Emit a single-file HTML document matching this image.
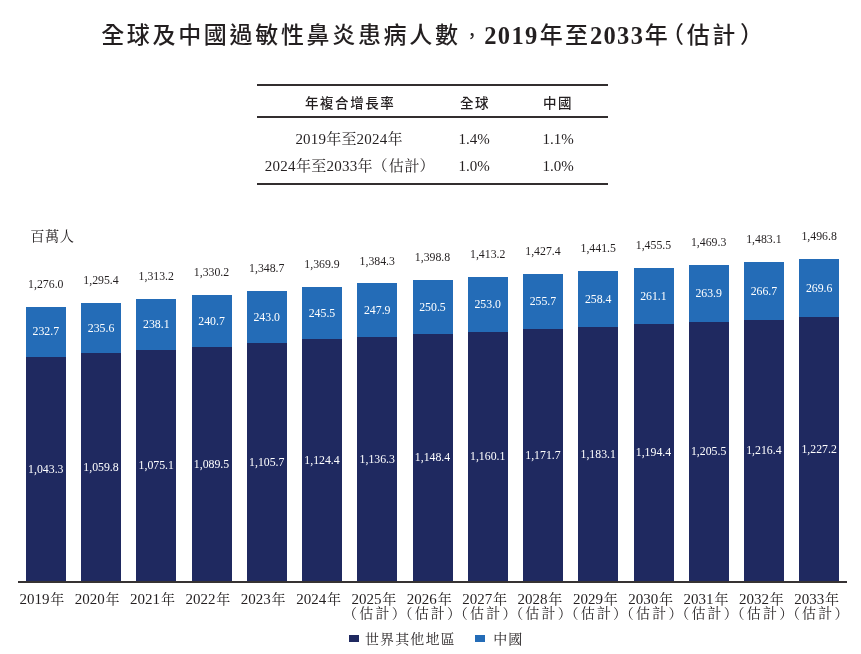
<!DOCTYPE html>
<html lang="zh-Hant">
<head>
<meta charset="utf-8">
<title>全球及中國過敏性鼻炎患病人數</title>
<style>
html,body{margin:0;padding:0;background:#fff;}
body{width:861px;height:654px;position:relative;overflow:hidden;color:#231f20;
 font-family:"Liberation Serif","Noto Serif CJK SC",serif;}
#wrap{position:absolute;left:0;top:0;width:861px;height:654px;will-change:transform;}
.abs{position:absolute;white-space:nowrap;}
.title{left:0;top:17px;width:861px;height:36px;line-height:36px;font-size:23px;}
.title span{position:absolute;top:0;white-space:nowrap;}
.sans{font-family:"Liberation Sans","Noto Sans CJK TC",sans-serif;}
.tc{font-weight:500;letter-spacing:2.67px;}
.tn{font-family:"Liberation Serif",serif;font-weight:700;font-size:24.5px;letter-spacing:1.3px;margin-top:0.5px;}
.rule{position:absolute;left:257px;width:351px;height:1.8px;background:#322e2f;}
.th{font-family:"Liberation Sans","Noto Sans CJK TC",sans-serif;font-weight:500;font-size:13.5px;letter-spacing:1.6px;line-height:20px;height:20px;}
.td{font-size:15px;line-height:20px;height:20px;}
.ctr{text-align:center;}
.bar{position:absolute;width:40.0px;}
.v{position:absolute;width:55.24px;text-align:center;font-size:11.8px;line-height:14px;height:14px;white-space:nowrap;}
.w{color:#fff;}
.xl{position:absolute;width:70px;text-align:center;font-size:15px;line-height:16px;height:16px;white-space:nowrap;top:590.7px;}
.xl .c{font-size:14px;margin-left:0.8px;line-height:0;}
.xl .e{font-size:14px;letter-spacing:2.2px;position:absolute;left:0;width:70px;top:15.4px;line-height:16px;height:16px;}
.pl{margin-left:-0.55em;}
.pr{margin-right:-0.62em;letter-spacing:0 !important;}
.axis{position:absolute;left:17.8px;width:829.4px;top:581.2px;height:1.7px;background:#363233;}
.unit{left:30.2px;top:226px;font-size:14.2px;line-height:20px;letter-spacing:0.6px;}
.lg{font-size:14px;line-height:20px;top:630.2px;letter-spacing:1.15px;}
.sw{position:absolute;width:9.9px;height:6.9px;top:635px;}
</style>
</head>
<body>
<div id="wrap">
<div class="abs title"><span class="sans tc" style="left:101.2px">全球及中國過敏性鼻炎患病人數</span><span class="sans tc" style="left:463.5px;top:1.5px;font-size:17px">，</span><span class="tn" style="left:484.3px">2019</span><span class="sans tc" style="left:539.8px;letter-spacing:2.2px">年至</span><span class="tn" style="left:590px">2033</span><span class="sans tc" style="left:644.8px">年</span><span class="sans tc" style="left:661px">（</span><span class="sans tc" style="left:686.8px">估</span><span class="sans tc" style="left:712.3px">計</span><span class="sans tc" style="left:740px">）</span></div>
<div class="rule" style="top:83.75px"></div>
<div class="rule" style="top:116.2px"></div>
<div class="rule" style="top:182.9px"></div>
<div class="abs th ctr" style="left:280.2px;width:140px;top:94px">年複合增長率</div>
<div class="abs th ctr" style="left:435px;width:80px;top:94px">全球</div>
<div class="abs th ctr" style="left:518px;width:80px;top:94px">中國</div>
<div class="abs td ctr" style="left:249px;width:200px;top:128.9px;letter-spacing:0.2px">2019年至2024年</div>
<div class="abs td ctr" style="left:434px;width:80px;top:128.9px">1.4%</div>
<div class="abs td ctr" style="left:518px;width:80px;top:128.9px">1.1%</div>
<div class="abs td" style="left:264.8px;top:156.4px;letter-spacing:0.27px">2024年至2033年</div>
<div class="abs td" style="left:372.6px;top:156.4px">（</div>
<div class="abs td" style="left:388.8px;top:156.4px;letter-spacing:0.7px">估計</div>
<div class="abs td" style="left:419.6px;top:156.4px">）</div>
<div class="abs td ctr" style="left:434px;width:80px;top:156.4px">1.0%</div>
<div class="abs td ctr" style="left:518px;width:80px;top:156.4px">1.0%</div>
<div class="abs unit">百萬人</div>
<div class="bar" style="left:26.00px;top:306.73px;height:50.55px;background:#246cb7"></div>
<div class="bar" style="left:26.00px;top:356.79px;height:225.01px;background:#1f2960"></div>
<div class="v" style="left:18.18px;top:276.83px">1,276.0</div>
<div class="v w" style="left:18.18px;top:324.46px">232.7</div>
<div class="v w" style="left:18.18px;top:461.69px">1,043.3</div>
<div class="xl" style="left:6.80px">2019<span class="c">年</span></div>
<div class="bar" style="left:81.24px;top:302.56px;height:51.18px;background:#246cb7"></div>
<div class="bar" style="left:81.24px;top:353.24px;height:228.56px;background:#1f2960"></div>
<div class="v" style="left:73.42px;top:272.66px">1,295.4</div>
<div class="v w" style="left:73.42px;top:320.60px">235.6</div>
<div class="v w" style="left:73.42px;top:459.92px">1,059.8</div>
<div class="xl" style="left:62.15px">2020<span class="c">年</span></div>
<div class="bar" style="left:136.48px;top:298.73px;height:51.72px;background:#246cb7"></div>
<div class="bar" style="left:136.48px;top:349.95px;height:231.85px;background:#1f2960"></div>
<div class="v" style="left:128.66px;top:268.83px">1,313.2</div>
<div class="v w" style="left:128.66px;top:317.04px">238.1</div>
<div class="v w" style="left:128.66px;top:458.27px">1,075.1</div>
<div class="xl" style="left:117.50px">2021<span class="c">年</span></div>
<div class="bar" style="left:191.72px;top:295.07px;height:52.27px;background:#246cb7"></div>
<div class="bar" style="left:191.72px;top:346.85px;height:234.95px;background:#1f2960"></div>
<div class="v" style="left:183.90px;top:265.17px">1,330.2</div>
<div class="v w" style="left:183.90px;top:313.66px">240.7</div>
<div class="v w" style="left:183.90px;top:456.72px">1,089.5</div>
<div class="xl" style="left:172.85px">2022<span class="c">年</span></div>
<div class="bar" style="left:246.96px;top:291.09px;height:52.77px;background:#246cb7"></div>
<div class="bar" style="left:246.96px;top:343.36px;height:238.44px;background:#1f2960"></div>
<div class="v" style="left:239.14px;top:261.19px">1,348.7</div>
<div class="v w" style="left:239.14px;top:309.93px">243.0</div>
<div class="v w" style="left:239.14px;top:454.98px">1,105.7</div>
<div class="xl" style="left:228.20px">2023<span class="c">年</span></div>
<div class="bar" style="left:302.20px;top:286.53px;height:53.31px;background:#246cb7"></div>
<div class="bar" style="left:302.20px;top:339.34px;height:242.46px;background:#1f2960"></div>
<div class="v" style="left:294.38px;top:256.63px">1,369.9</div>
<div class="v w" style="left:294.38px;top:305.64px">245.5</div>
<div class="v w" style="left:294.38px;top:452.97px">1,124.4</div>
<div class="xl" style="left:283.55px">2024<span class="c">年</span></div>
<div class="bar" style="left:357.44px;top:283.44px;height:53.84px;background:#246cb7"></div>
<div class="bar" style="left:357.44px;top:336.78px;height:245.02px;background:#1f2960"></div>
<div class="v" style="left:349.62px;top:253.54px">1,384.3</div>
<div class="v w" style="left:349.62px;top:302.81px">247.9</div>
<div class="v w" style="left:349.62px;top:451.69px">1,136.3</div>
<div class="xl" style="left:338.90px">2025<span class="c">年</span><br><span class="e"><span class="pl">（</span>估計<span class="pr">）</span></span></div>
<div class="bar" style="left:412.68px;top:280.32px;height:54.36px;background:#246cb7"></div>
<div class="bar" style="left:412.68px;top:334.18px;height:247.62px;background:#1f2960"></div>
<div class="v" style="left:404.86px;top:250.42px">1,398.8</div>
<div class="v w" style="left:404.86px;top:299.95px">250.5</div>
<div class="v w" style="left:404.86px;top:450.39px">1,148.4</div>
<div class="xl" style="left:394.25px">2026<span class="c">年</span><br><span class="e"><span class="pl">（</span>估計<span class="pr">）</span></span></div>
<div class="bar" style="left:467.92px;top:277.22px;height:54.94px;background:#246cb7"></div>
<div class="bar" style="left:467.92px;top:331.66px;height:250.14px;background:#1f2960"></div>
<div class="v" style="left:460.10px;top:247.32px">1,413.2</div>
<div class="v w" style="left:460.10px;top:297.14px">253.0</div>
<div class="v w" style="left:460.10px;top:449.13px">1,160.1</div>
<div class="xl" style="left:449.60px">2027<span class="c">年</span><br><span class="e"><span class="pl">（</span>估計<span class="pr">）</span></span></div>
<div class="bar" style="left:523.16px;top:274.17px;height:55.50px;background:#246cb7"></div>
<div class="bar" style="left:523.16px;top:329.17px;height:252.63px;background:#1f2960"></div>
<div class="v" style="left:515.34px;top:244.27px">1,427.4</div>
<div class="v w" style="left:515.34px;top:294.37px">255.7</div>
<div class="v w" style="left:515.34px;top:447.88px">1,171.7</div>
<div class="xl" style="left:504.95px">2028<span class="c">年</span><br><span class="e"><span class="pl">（</span>估計<span class="pr">）</span></span></div>
<div class="bar" style="left:578.40px;top:271.13px;height:56.08px;background:#246cb7"></div>
<div class="bar" style="left:578.40px;top:326.72px;height:255.08px;background:#1f2960"></div>
<div class="v" style="left:570.58px;top:241.23px">1,441.5</div>
<div class="v w" style="left:570.58px;top:291.62px">258.4</div>
<div class="v w" style="left:570.58px;top:446.66px">1,183.1</div>
<div class="xl" style="left:560.30px">2029<span class="c">年</span><br><span class="e"><span class="pl">（</span>估計<span class="pr">）</span></span></div>
<div class="bar" style="left:633.64px;top:268.12px;height:56.66px;background:#246cb7"></div>
<div class="bar" style="left:633.64px;top:324.28px;height:257.52px;background:#1f2960"></div>
<div class="v" style="left:625.82px;top:238.22px">1,455.5</div>
<div class="v w" style="left:625.82px;top:288.90px">261.1</div>
<div class="v w" style="left:625.82px;top:445.44px">1,194.4</div>
<div class="xl" style="left:615.65px">2030<span class="c">年</span><br><span class="e"><span class="pl">（</span>估計<span class="pr">）</span></span></div>
<div class="bar" style="left:688.88px;top:265.15px;height:57.24px;background:#246cb7"></div>
<div class="bar" style="left:688.88px;top:321.90px;height:259.90px;background:#1f2960"></div>
<div class="v" style="left:681.06px;top:235.25px">1,469.3</div>
<div class="v w" style="left:681.06px;top:286.23px">263.9</div>
<div class="v w" style="left:681.06px;top:444.25px">1,205.5</div>
<div class="xl" style="left:671.00px">2031<span class="c">年</span><br><span class="e"><span class="pl">（</span>估計<span class="pr">）</span></span></div>
<div class="bar" style="left:744.12px;top:262.19px;height:57.87px;background:#246cb7"></div>
<div class="bar" style="left:744.12px;top:319.55px;height:262.25px;background:#1f2960"></div>
<div class="v" style="left:736.30px;top:232.29px">1,483.1</div>
<div class="v w" style="left:736.30px;top:283.57px">266.7</div>
<div class="v w" style="left:736.30px;top:443.08px">1,216.4</div>
<div class="xl" style="left:726.35px">2032<span class="c">年</span><br><span class="e"><span class="pl">（</span>估計<span class="pr">）</span></span></div>
<div class="bar" style="left:799.36px;top:259.24px;height:58.49px;background:#246cb7"></div>
<div class="bar" style="left:799.36px;top:317.23px;height:264.57px;background:#1f2960"></div>
<div class="v" style="left:791.54px;top:229.34px">1,496.8</div>
<div class="v w" style="left:791.54px;top:280.93px">269.6</div>
<div class="v w" style="left:791.54px;top:441.91px">1,227.2</div>
<div class="xl" style="left:781.70px">2033<span class="c">年</span><br><span class="e"><span class="pl">（</span>估計<span class="pr">）</span></span></div>
<div class="axis"></div>
<div class="sw" style="left:349.4px;background:#1f2960"></div>
<div class="abs lg" style="left:364.9px">世界其他地區</div>
<div class="sw" style="left:474.8px;background:#246cb7"></div>
<div class="abs lg" style="left:493.2px">中國</div>
</div>
</body>
</html>
